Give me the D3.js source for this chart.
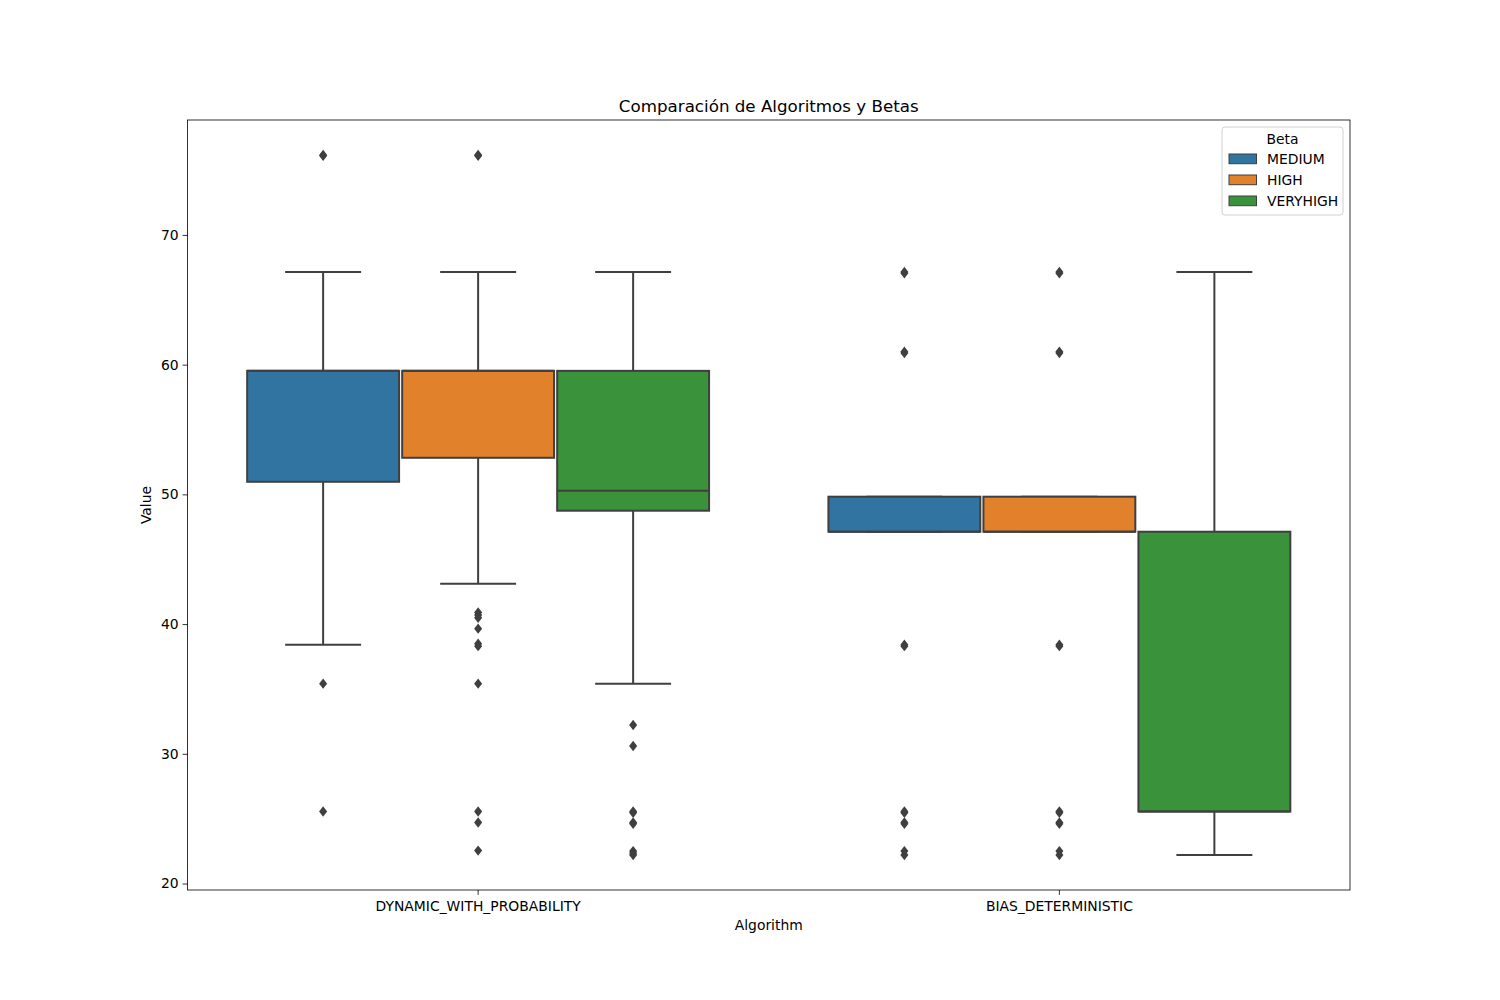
<!DOCTYPE html>
<html><head><meta charset="utf-8">
<script src="https://d3js.org/d3.v7.min.js"></script>
<style>body{margin:0;background:#fff;} svg{display:block;} text{font-family:"DejaVu Sans",sans-serif;}</style>
</head><body>
<script>
const algorithms = ["DYNAMIC_WITH_PROBABILITY", "BIAS_DETERMINISTIC"];
const betas = ["MEDIUM", "HIGH", "VERYHIGH"];
const colors = ["#3274a1", "#e1812c", "#3a923a"];
// [algorithm index][beta index]: whiskerLow, q1, median, q3, whiskerHigh
const whiskerLow  = [[38.4, 43.1, 35.4], [47.12, 47.12, 22.2]];
const q1          = [[50.97, 52.82, 48.74], [47.12, 47.12, 25.55]];
const median      = [[59.52, 59.52, 50.28], [47.12, 47.12, 25.55]];
const q3          = [[59.52, 59.52, 59.52], [49.82, 49.82, 47.12]];
const whiskerHigh = [[67.15, 67.15, 67.15], [49.82, 49.82, 67.15]];
const outliers = [
  [[76.16, 76.1, 35.41, 25.55],
   [76.16, 76.1, 40.9, 40.7, 40.49, 39.65, 38.49, 38.3, 35.41, 25.55, 24.7, 22.54],
   [32.22, 30.6, 25.55, 25.45, 24.7, 24.6, 22.5, 22.35, 22.2]],
  [[67.15, 67.05, 60.99, 60.9, 38.41, 38.3, 25.55, 25.45, 24.7, 24.6, 22.5, 22.2],
   [67.15, 67.05, 60.99, 60.9, 38.41, 38.3, 25.55, 25.45, 24.7, 24.6, 22.5, 22.2],
   []]
];
const title = "Comparación de Algoritmos y Betas";
const xLabel = "Algorithm";
const yLabel = "Value";
const yTicks = [20, 30, 40, 50, 60, 70];

const W = 1500, H = 1000;
const L = 187.5, R = 1350, T = 120, B = 890;
const svg = d3.select("body").append("svg").attr("width", W).attr("height", H);

const allVals = [];
for (let a = 0; a < 2; a++) for (let b = 0; b < 3; b++) {
  allVals.push(whiskerLow[a][b], whiskerHigh[a][b], ...outliers[a][b]);
}
const vmin = d3.min(allVals), vmax = d3.max(allVals), pad = (vmax - vmin) * 0.05;
const y = d3.scaleLinear().domain([vmin - pad, vmax + pad]).range([B, T]);
const x = d3.scaleBand().domain(algorithms).range([L, R]).padding(0);
const bw = x.bandwidth();
const hue = d3.scaleBand().domain(betas).range([0, bw * 0.8]).padding(0);
const boxW = hue.bandwidth() * 0.98;
const line = "#3f3f3f";

const g = svg.append("g");
algorithms.forEach((alg, a) => {
  betas.forEach((beta, b) => {
    const cx = x(alg) + bw * 0.1 + hue(beta) + hue.bandwidth() / 2;
    const gg = g.append("g");
    gg.append("line").attr("x1", cx).attr("x2", cx).attr("y1", y(q3[a][b])).attr("y2", y(whiskerHigh[a][b])).attr("stroke", line).attr("stroke-width", 2);
    gg.append("line").attr("x1", cx).attr("x2", cx).attr("y1", y(q1[a][b])).attr("y2", y(whiskerLow[a][b])).attr("stroke", line).attr("stroke-width", 2);
    [whiskerHigh[a][b], whiskerLow[a][b]].forEach(v => {
      gg.append("line").attr("x1", cx - boxW / 4).attr("x2", cx + boxW / 4).attr("y1", y(v)).attr("y2", y(v)).attr("stroke", line).attr("stroke-width", 2);
    });
    gg.append("rect").attr("x", cx - boxW / 2).attr("width", boxW)
      .attr("y", y(q3[a][b])).attr("height", y(q1[a][b]) - y(q3[a][b]))
      .attr("fill", colors[b]).attr("stroke", line).attr("stroke-width", 2);
    gg.append("line").attr("x1", cx - boxW / 2).attr("x2", cx + boxW / 2).attr("y1", y(median[a][b])).attr("y2", y(median[a][b])).attr("stroke", line).attr("stroke-width", 2);
    outliers[a][b].forEach(v => {
      const py = y(v);
      gg.append("path").attr("d", `M${cx},${py - 5.2} L${cx + 4},${py} L${cx},${py + 5.2} L${cx - 4},${py} Z`).attr("fill", line);
    });
  });
});

svg.append("rect").attr("x", L).attr("y", T).attr("width", R - L).attr("height", B - T).attr("fill", "none").attr("stroke", "#000").attr("stroke-width", 0.8);

const yAxis = d3.axisLeft(y).tickValues(yTicks).tickSize(4.9).tickPadding(4);
const ya = svg.append("g").attr("transform", `translate(${L},0)`).call(yAxis);
ya.select(".domain").remove();
ya.selectAll("line").attr("stroke", "#000").attr("stroke-width", 0.8);
ya.selectAll("text").attr("font-size", "13.9px").attr("fill", "#000").attr("font-family", "DejaVu Sans");

const xAxis = d3.axisBottom(x).tickSize(4.9).tickPadding(6);
const xa = svg.append("g").attr("transform", `translate(0,${B})`).call(xAxis);
xa.select(".domain").remove();
xa.selectAll("line").attr("stroke", "#000").attr("stroke-width", 0.8);
xa.selectAll("text").attr("font-size", "13.9px").attr("fill", "#000").attr("font-family", "DejaVu Sans");

svg.append("text").attr("x", (L + R) / 2).attr("y", 112).attr("text-anchor", "middle").attr("font-size", "16.7px").text(title);
svg.append("text").attr("x", (L + R) / 2).attr("y", 930).attr("text-anchor", "middle").attr("font-size", "13.9px").text(xLabel);
svg.append("text").attr("transform", `translate(151,${(T + B) / 2}) rotate(-90)`).attr("text-anchor", "middle").attr("font-size", "13.9px").text(yLabel);

const lg = svg.append("g");
lg.append("rect").attr("x", 1222).attr("y", 127).attr("width", 121).attr("height", 88).attr("rx", 3)
  .attr("fill", "#fff").attr("fill-opacity", 0.8).attr("stroke", "#d0d0d0").attr("stroke-width", 1);
lg.append("text").attr("x", 1282.5).attr("y", 144).attr("text-anchor", "middle").attr("font-size", "13.9px").text("Beta");
betas.forEach((beta, i) => {
  const yy = 154 + i * 21;
  lg.append("rect").attr("x", 1229).attr("y", yy).attr("width", 27.5).attr("height", 9.7).attr("fill", colors[i]).attr("stroke", line).attr("stroke-width", 1);
  lg.append("text").attr("x", 1267).attr("y", yy + 10).attr("font-size", "13.9px").text(beta);
});
</script>
</body></html>
